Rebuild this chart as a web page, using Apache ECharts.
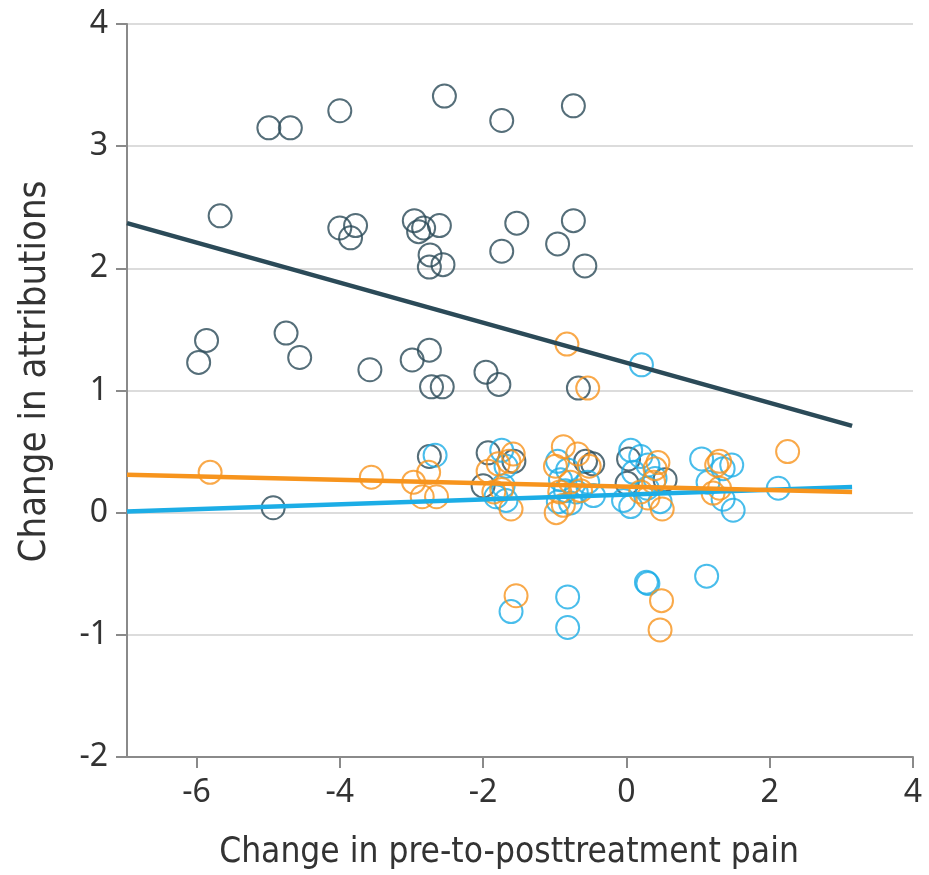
<!DOCTYPE html>
<html>
<head>
<meta charset="utf-8">
<script src="https://cdn.jsdelivr.net/npm/echarts@6/dist/echarts.min.js"></script>
<style>html,body{margin:0;padding:0;background:#fff}#c{width:929px;height:875px}</style>
</head>
<body>
<div id="c"></div>
<script>
const xTicks = [-6, -4, -2, 0, 2, 4];
const xName = 'Change in pre-to-posttreatment pain';
const yName = 'Change in attributions';

const darkPoints = [
  [-5.67, 2.43], [-4.99, 3.15], [-4.69, 3.15], [-4.0, 3.29], [-2.54, 3.41], [-1.74, 3.21], [-0.74, 3.33],
  [-4.0, 2.33], [-3.78, 2.35], [-3.85, 2.25], [-2.96, 2.39], [-2.90, 2.30], [-2.83, 2.33], [-2.61, 2.35],
  [-2.74, 2.11], [-2.75, 2.01], [-2.56, 2.03], [-1.53, 2.37], [-1.74, 2.14], [-0.96, 2.20], [-0.74, 2.39],
  [-0.58, 2.02], [-4.75, 1.47], [-5.86, 1.41], [-5.97, 1.23], [-4.56, 1.27], [-3.58, 1.17], [-2.99, 1.25],
  [-2.75, 1.33], [-2.72, 1.03], [-2.57, 1.03], [-1.96, 1.15], [-1.78, 1.05], [-0.67, 1.02], [-4.93, 0.04],
  [-2.75, 0.46], [-1.93, 0.49], [-1.57, 0.42], [-2.0, 0.22], [-0.57, 0.42], [-0.47, 0.40], [0.03, 0.44],
  [0.01, 0.24], [0.54, 0.27]
];
const bluePoints = [
  [-2.67, 0.47], [-1.74, 0.51], [-1.68, 0.38], [-1.72, 0.22], [-1.82, 0.13], [-1.68, 0.10],
  [-0.96, 0.42], [-0.82, 0.35], [-0.92, 0.27], [-0.54, 0.25], [-0.95, 0.09], [-0.78, 0.08],
  [-0.46, 0.14], [-0.70, 0.17], [0.06, 0.51], [0.20, 0.46], [0.30, 0.39], [0.06, 0.05],
  [-0.04, 0.10], [0.47, 0.09], [0.29, 0.20], [0.10, 0.33], [0.21, 1.21], [1.05, 0.44],
  [1.47, 0.39], [1.35, 0.36], [1.14, 0.25], [1.35, 0.11], [1.49, 0.02], [2.12, 0.20],
  [-1.61, -0.81], [-0.82, -0.69], [-0.82, -0.94], [0.28, -0.57], [0.30, -0.58], [1.12, -0.52],
  [0.40, 0.28], [-0.85, 0.18]
];
const orangePoints = [
  [-5.81, 0.33], [-3.56, 0.29], [-2.76, 0.33], [-2.97, 0.25], [-2.85, 0.13], [-2.65, 0.13],
  [-1.58, 0.48], [-1.64, 0.42], [-1.79, 0.40], [-1.93, 0.34], [-1.74, 0.19], [-1.61, 0.03],
  [-1.85, 0.17], [-0.83, 1.38], [-0.54, 1.02], [-0.88, 0.54], [-0.68, 0.48], [-0.99, 0.38],
  [-0.78, 0.25], [-0.93, 0.17], [-0.64, 0.18], [-0.88, 0.06], [-0.98, 0.00], [-0.52, 0.38],
  [0.44, 0.41], [0.40, 0.36], [0.38, 0.25], [0.20, 0.17], [0.50, 0.03], [0.30, 0.12],
  [1.26, 0.39], [1.30, 0.42], [1.21, 0.16], [1.30, 0.20], [2.25, 0.50], [-1.54, -0.68],
  [0.49, -0.72], [0.47, -0.96]
];
const darkLine = [[-6.97, 2.37], [3.15, 0.71]];
const orangeLine = [[-6.97, 0.31], [3.15, 0.17]];
const blueLine = [[-6.97, 0.01], [3.15, 0.21]];

const DARK = '#2b4a58', BLUE = '#1cade6', ORANGE = '#f7941d';
const TITLE_FONT = '"DejaVu Sans Condensed", "DejaVu Sans", sans-serif';

function scatter(data, color) {
  return {
    type: 'scatter', data: data, symbol: 'circle', symbolSize: 23,
    itemStyle: { color: 'rgba(0,0,0,0)', borderColor: color, borderWidth: 2 },
    emphasis: { disabled: true }, z: 2
  };
}
function fit(data, color, z) {
  return {
    type: 'line', data: data, showSymbol: false, symbol: 'none',
    lineStyle: { color: color, width: 4.5 }, z: z, emphasis: { disabled: true }
  };
}

const chart = echarts.init(document.getElementById('c'), null, { renderer: 'canvas' });
chart.setOption({
  animation: false,
  grid: { left: 127, right: 16, top: 24, bottom: 116, containLabel: false },
  xAxis: {
    type: 'value', min: -6.97, max: 4,
    name: xName, nameLocation: 'middle', nameGap: 78,
    nameTextStyle: { fontFamily: TITLE_FONT, fontSize: 35, color: '#333', padding: [0, 22, 0, 0] },
    axisLine: { onZero: false, lineStyle: { color: '#8a8a8a', width: 2 } },
    axisTick: { show: true, customValues: xTicks, length: 11, lineStyle: { color: '#8a8a8a', width: 2 } },
    axisLabel: { customValues: xTicks, fontFamily: 'Noto Sans', fontSize: 32, color: '#333', margin: 20 },
    splitLine: { show: false }
  },
  yAxis: {
    type: 'value', min: -2, max: 4, interval: 1,
    name: yName, nameLocation: 'middle', nameGap: 73, nameRotate: 90,
    nameTextStyle: { fontFamily: TITLE_FONT, fontSize: 38, color: '#333', padding: [0, 0, 0, 38] },
    axisLine: { show: true, onZero: false, lineStyle: { color: '#8a8a8a', width: 2 } },
    axisTick: { show: true, length: 11, lineStyle: { color: '#8a8a8a', width: 2 } },
    axisLabel: { fontFamily: 'Noto Sans', fontSize: 32, color: '#333', margin: 19 },
    splitLine: { show: true, lineStyle: { color: '#dcdcdc', width: 2 } }
  },
  series: [
    scatter(darkPoints, DARK),
    scatter(bluePoints, BLUE),
    scatter(orangePoints, ORANGE),
    fit(darkLine, DARK, 3),
    fit(blueLine, BLUE, 3),
    fit(orangeLine, ORANGE, 4)
  ]
});
</script>
</body>
</html>
